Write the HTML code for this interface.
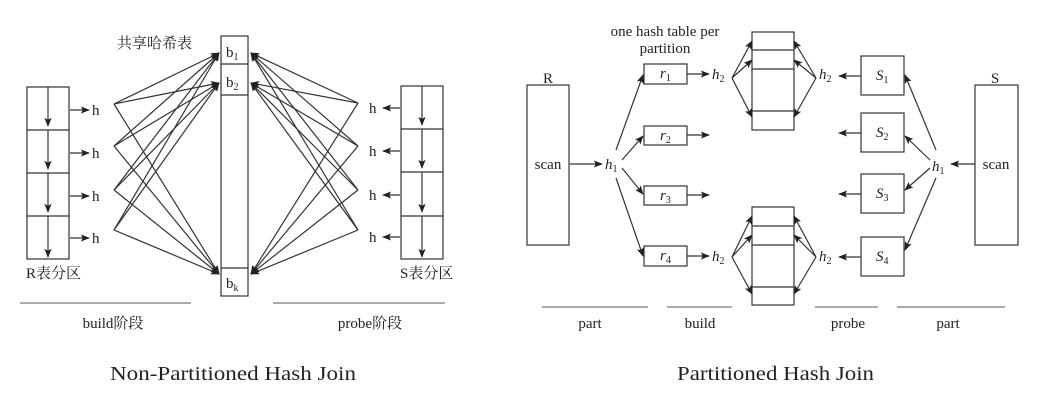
<!DOCTYPE html>
<html><head><meta charset="utf-8"><style>
html,body{margin:0;padding:0;background:#fff;}
svg{display:block;}
text{font-family:"Liberation Serif","Noto Serif CJK SC","Noto Sans CJK SC",serif;fill:#222;}
</style></head><body>
<svg width="1039" height="402" viewBox="0 0 1039 402">
<defs>
<marker id="ah" viewBox="0 0 10 10" refX="9" refY="5" markerWidth="9" markerHeight="9" markerUnits="userSpaceOnUse" orient="auto">
<path d="M0,1 L10,5 L0,9 L2,5 z" fill="#222"/></marker>
</defs>
<g stroke="#333" stroke-width="1.2" fill="none">
<!-- LEFT PANEL -->
<g>
<rect x="27" y="87" width="42" height="172"/>
<line x1="27" y1="130" x2="69" y2="130"/><line x1="27" y1="173" x2="69" y2="173"/><line x1="27" y1="216" x2="69" y2="216"/>
<line x1="48" y1="87" x2="48" y2="126" marker-end="url(#ah)"/><line x1="48" y1="130" x2="48" y2="169" marker-end="url(#ah)"/>
<line x1="48" y1="173" x2="48" y2="212" marker-end="url(#ah)"/><line x1="48" y1="216" x2="48" y2="257" marker-end="url(#ah)"/>
<line x1="70" y1="110" x2="89" y2="110" marker-end="url(#ah)"/><line x1="70" y1="153" x2="89" y2="153" marker-end="url(#ah)"/>
<line x1="70" y1="196" x2="89" y2="196" marker-end="url(#ah)"/><line x1="70" y1="238" x2="89" y2="238" marker-end="url(#ah)"/>
</g>
<g>
<rect x="221" y="36" width="27" height="260"/>
<line x1="221" y1="64" x2="248" y2="64"/><line x1="221" y1="95" x2="248" y2="95"/><line x1="221" y1="268" x2="248" y2="268"/>
</g>
<g>
<line x1="114" y1="104" x2="219" y2="53" marker-end="url(#ah)"/><line x1="114" y1="104" x2="219" y2="83" marker-end="url(#ah)"/><line x1="114" y1="104" x2="219" y2="274" marker-end="url(#ah)"/>
<line x1="114" y1="146" x2="219" y2="53" marker-end="url(#ah)"/><line x1="114" y1="146" x2="219" y2="83" marker-end="url(#ah)"/><line x1="114" y1="146" x2="219" y2="274" marker-end="url(#ah)"/>
<line x1="114" y1="190" x2="219" y2="53" marker-end="url(#ah)"/><line x1="114" y1="190" x2="219" y2="83" marker-end="url(#ah)"/><line x1="114" y1="190" x2="219" y2="274" marker-end="url(#ah)"/>
<line x1="114" y1="230" x2="219" y2="53" marker-end="url(#ah)"/><line x1="114" y1="230" x2="219" y2="83" marker-end="url(#ah)"/><line x1="114" y1="230" x2="219" y2="274" marker-end="url(#ah)"/>
</g>
<g>
<line x1="358" y1="103" x2="251" y2="53" marker-end="url(#ah)"/><line x1="358" y1="103" x2="251" y2="83" marker-end="url(#ah)"/><line x1="358" y1="103" x2="251" y2="274" marker-end="url(#ah)"/>
<line x1="358" y1="146" x2="251" y2="53" marker-end="url(#ah)"/><line x1="358" y1="146" x2="251" y2="83" marker-end="url(#ah)"/><line x1="358" y1="146" x2="251" y2="274" marker-end="url(#ah)"/>
<line x1="358" y1="190" x2="251" y2="53" marker-end="url(#ah)"/><line x1="358" y1="190" x2="251" y2="83" marker-end="url(#ah)"/><line x1="358" y1="190" x2="251" y2="274" marker-end="url(#ah)"/>
<line x1="358" y1="230" x2="251" y2="53" marker-end="url(#ah)"/><line x1="358" y1="230" x2="251" y2="83" marker-end="url(#ah)"/><line x1="358" y1="230" x2="251" y2="274" marker-end="url(#ah)"/>
</g>
<g>
<rect x="401" y="86" width="42" height="173"/>
<line x1="401" y1="129" x2="443" y2="129"/><line x1="401" y1="172" x2="443" y2="172"/><line x1="401" y1="216" x2="443" y2="216"/>
<line x1="422" y1="86" x2="422" y2="125" marker-end="url(#ah)"/><line x1="422" y1="129" x2="422" y2="168" marker-end="url(#ah)"/>
<line x1="422" y1="172" x2="422" y2="212" marker-end="url(#ah)"/><line x1="422" y1="216" x2="422" y2="257" marker-end="url(#ah)"/>
<line x1="400" y1="108" x2="383" y2="108" marker-end="url(#ah)"/><line x1="400" y1="151" x2="383" y2="151" marker-end="url(#ah)"/>
<line x1="400" y1="195" x2="383" y2="195" marker-end="url(#ah)"/><line x1="400" y1="237" x2="383" y2="237" marker-end="url(#ah)"/>
</g>
<line x1="20" y1="303" x2="191" y2="303" stroke="#777"/>
<line x1="273" y1="303" x2="445" y2="303" stroke="#777"/>

<!-- RIGHT PANEL -->
<rect x="527" y="85" width="42" height="160"/>
<rect x="975" y="85" width="43" height="160"/>
<line x1="570" y1="164" x2="602" y2="164" marker-end="url(#ah)"/>
<line x1="975" y1="164" x2="951" y2="164" marker-end="url(#ah)"/>
<g>
<rect x="644" y="64" width="43" height="20"/><rect x="644" y="126" width="43" height="19"/>
<rect x="644" y="186" width="43" height="19"/><rect x="644" y="246" width="43" height="20"/>
<line x1="616" y1="150" x2="643" y2="75" marker-end="url(#ah)"/><line x1="622" y1="160" x2="643" y2="136" marker-end="url(#ah)"/>
<line x1="622" y1="168" x2="643" y2="194" marker-end="url(#ah)"/><line x1="616" y1="178" x2="643" y2="256" marker-end="url(#ah)"/>
<line x1="687" y1="74" x2="709" y2="74" marker-end="url(#ah)"/><line x1="687" y1="135" x2="709" y2="135" marker-end="url(#ah)"/>
<line x1="687" y1="195" x2="709" y2="195" marker-end="url(#ah)"/><line x1="687" y1="256" x2="709" y2="256" marker-end="url(#ah)"/>
</g>
<g>
<rect x="861" y="56" width="43" height="39"/><rect x="861" y="113" width="43" height="39"/>
<rect x="861" y="174" width="43" height="39"/><rect x="861" y="237" width="43" height="39"/>
<line x1="936" y1="150" x2="905" y2="75" marker-end="url(#ah)"/><line x1="930" y1="160" x2="905" y2="136" marker-end="url(#ah)"/>
<line x1="930" y1="168" x2="905" y2="190" marker-end="url(#ah)"/><line x1="936" y1="178" x2="905" y2="250" marker-end="url(#ah)"/>
<line x1="861" y1="76" x2="839" y2="76" marker-end="url(#ah)"/><line x1="861" y1="133" x2="839" y2="133" marker-end="url(#ah)"/>
<line x1="861" y1="194" x2="839" y2="194" marker-end="url(#ah)"/><line x1="861" y1="257" x2="839" y2="257" marker-end="url(#ah)"/>
</g>
<g>
<rect x="752" y="32" width="42" height="98"/>
<line x1="752" y1="50" x2="794" y2="50"/><line x1="752" y1="69" x2="794" y2="69"/><line x1="752" y1="111" x2="794" y2="111"/>
<line x1="732" y1="78" x2="752" y2="41" marker-end="url(#ah)"/><line x1="732" y1="78" x2="752" y2="60" marker-end="url(#ah)"/><line x1="732" y1="78" x2="752" y2="117" marker-end="url(#ah)"/>
<line x1="816" y1="78" x2="794" y2="41" marker-end="url(#ah)"/><line x1="816" y1="78" x2="794" y2="60" marker-end="url(#ah)"/><line x1="816" y1="78" x2="794" y2="117" marker-end="url(#ah)"/>
</g>
<g>
<rect x="752" y="207" width="42" height="98"/>
<line x1="752" y1="226" x2="794" y2="226"/><line x1="752" y1="245" x2="794" y2="245"/><line x1="752" y1="287" x2="794" y2="287"/>
<line x1="732" y1="257" x2="752" y2="216" marker-end="url(#ah)"/><line x1="732" y1="257" x2="752" y2="235" marker-end="url(#ah)"/><line x1="732" y1="257" x2="752" y2="294" marker-end="url(#ah)"/>
<line x1="816" y1="257" x2="794" y2="216" marker-end="url(#ah)"/><line x1="816" y1="257" x2="794" y2="235" marker-end="url(#ah)"/><line x1="816" y1="257" x2="794" y2="294" marker-end="url(#ah)"/>
</g>
<g stroke="#777">
<line x1="542" y1="307" x2="648" y2="307"/><line x1="667" y1="307" x2="732" y2="307"/>
<line x1="815" y1="307" x2="878" y2="307"/><line x1="897" y1="307" x2="1005" y2="307"/>
</g>
</g>

<!-- LEFT TEXT -->
<g font-size="15">
<text x="117" y="48">共享哈希表</text>
<text x="226" y="57">b<tspan font-size="10" dy="3">1</tspan></text>
<text x="226" y="87">b<tspan font-size="10" dy="3">2</tspan></text>
<text x="226" y="288">b<tspan font-size="10" dy="3">k</tspan></text>
<text x="92" y="115">h</text><text x="92" y="158">h</text><text x="92" y="201">h</text><text x="92" y="243">h</text>
<text x="369" y="113">h</text><text x="369" y="156">h</text><text x="369" y="200">h</text><text x="369" y="242">h</text>
<text x="26" y="278">R表分区</text>
<text x="400" y="278">S表分区</text>
<text x="113" y="328" text-anchor="middle">build阶段</text>
<text x="370" y="328" text-anchor="middle">probe阶段</text>
</g>
<!-- RIGHT TEXT -->
<g font-size="15">
<text x="548" y="83" text-anchor="middle">R</text>
<text x="995" y="83" text-anchor="middle">S</text>
<text x="548" y="169" text-anchor="middle">scan</text>
<text x="996" y="169" text-anchor="middle">scan</text>
<text x="665" y="36" text-anchor="middle">one hash table per</text>
<text x="665" y="53" text-anchor="middle">partition</text>
<g font-style="italic">
<text x="605" y="169">h<tspan font-size="10" dy="3" font-style="normal">1</tspan></text>
<text x="932" y="171">h<tspan font-size="10" dy="3" font-style="normal">1</tspan></text>
<text x="712" y="79">h<tspan font-size="10" dy="3" font-style="normal">2</tspan></text>
<text x="712" y="261">h<tspan font-size="10" dy="3" font-style="normal">2</tspan></text>
<text x="819" y="79">h<tspan font-size="10" dy="3" font-style="normal">2</tspan></text>
<text x="819" y="261">h<tspan font-size="10" dy="3" font-style="normal">2</tspan></text>
<text x="660" y="78">r<tspan font-size="10" dy="3" font-style="normal">1</tspan></text>
<text x="660" y="140">r<tspan font-size="10" dy="3" font-style="normal">2</tspan></text>
<text x="660" y="200">r<tspan font-size="10" dy="3" font-style="normal">3</tspan></text>
<text x="660" y="260">r<tspan font-size="10" dy="3" font-style="normal">4</tspan></text>
<text x="876" y="80">S<tspan font-size="10" dy="3" font-style="normal">1</tspan></text>
<text x="876" y="137">S<tspan font-size="10" dy="3" font-style="normal">2</tspan></text>
<text x="876" y="198">S<tspan font-size="10" dy="3" font-style="normal">3</tspan></text>
<text x="876" y="261">S<tspan font-size="10" dy="3" font-style="normal">4</tspan></text>
</g>
<text x="590" y="328" text-anchor="middle">part</text>
<text x="700" y="328" text-anchor="middle">build</text>
<text x="848" y="328" text-anchor="middle">probe</text>
<text x="948" y="328" text-anchor="middle">part</text>
</g>
<text x="110" y="380" font-size="20" textLength="246" lengthAdjust="spacingAndGlyphs">Non-Partitioned Hash Join</text>
<text x="677" y="380" font-size="20" textLength="197" lengthAdjust="spacingAndGlyphs">Partitioned Hash Join</text>
</svg>
</body></html>
